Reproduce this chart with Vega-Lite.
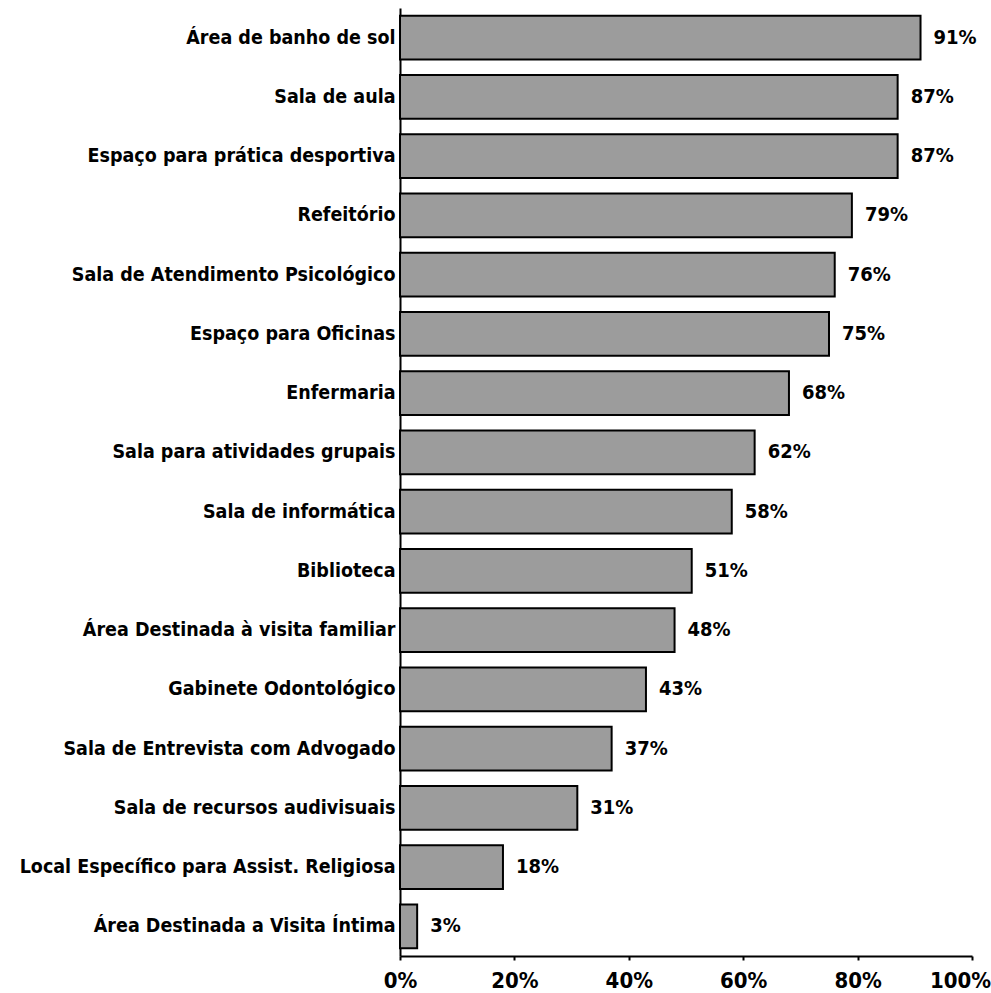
{
  "$schema": "https://vega.github.io/schema/vega-lite/v6.json",
  "width": 572,
  "height": 948,
  "autosize": {"type": "none"},
  "padding": {"left": 400, "top": 8, "right": 19, "bottom": 37},
  "background": "white",
  "config": {"view": {"stroke": null}, "font": "DejaVu Sans Condensed"},
  "data": {"values": [
    {"item": "Área de banho de sol", "pct": 0.91},
    {"item": "Sala de aula", "pct": 0.87},
    {"item": "Espaço para prática desportiva", "pct": 0.87},
    {"item": "Refeitório", "pct": 0.79},
    {"item": "Sala de Atendimento Psicológico", "pct": 0.76},
    {"item": "Espaço para Oficinas", "pct": 0.75},
    {"item": "Enfermaria", "pct": 0.68},
    {"item": "Sala para atividades grupais", "pct": 0.62},
    {"item": "Sala de informática", "pct": 0.58},
    {"item": "Biblioteca", "pct": 0.51},
    {"item": "Área Destinada à visita familiar", "pct": 0.48},
    {"item": "Gabinete Odontológico", "pct": 0.43},
    {"item": "Sala de Entrevista com Advogado", "pct": 0.37},
    {"item": "Sala de recursos audivisuais", "pct": 0.31},
    {"item": "Local Específico para Assist. Religiosa", "pct": 0.18},
    {"item": "Área Destinada a Visita Íntima", "pct": 0.03}
  ]},
  "encoding": {
    "y": {
      "field": "item", "type": "nominal", "sort": null,
      "scale": {"paddingInner": 0.26, "paddingOuter": 0.13},
      "axis": {
        "title": null, "ticks": false, "tickSize": 0, "labelPadding": 5,
        "domainColor": "black", "domainWidth": 2,
        "labelFont": "DejaVu Sans Condensed", "labelFontWeight": "bold",
        "labelFontSize": 19.5, "labelColor": "black", "labelLimit": 398
      }
    },
    "x": {
      "field": "pct", "type": "quantitative",
      "scale": {"domain": [0, 1], "nice": false},
      "axis": {
        "title": null, "grid": false, "values": [0, 0.2, 0.4, 0.6, 0.8, 1],
        "format": ".0%", "labelFlush": false,
        "domainColor": "black", "domainWidth": 2,
        "tickColor": "black", "tickWidth": 2, "tickSize": 4,
        "labelPadding": 10,
        "labelOffset": {"condition": {"test": "datum.value === 1", "value": -12}, "value": 0},
        "labelFont": "DejaVu Sans Condensed", "labelFontWeight": "bold",
        "labelFontSize": 22, "labelColor": "black"
      }
    }
  },
  "layer": [
    {"mark": {"type": "bar", "fill": "#9c9c9c", "stroke": "black", "strokeWidth": 2}},
    {
      "mark": {"type": "text", "align": "left", "baseline": "middle", "dx": 13,
               "font": "DejaVu Sans Condensed", "fontWeight": "bold", "fontSize": 20, "color": "black"},
      "encoding": {"text": {"field": "pct", "type": "quantitative", "format": ".0%"}}
    }
  ]
}
